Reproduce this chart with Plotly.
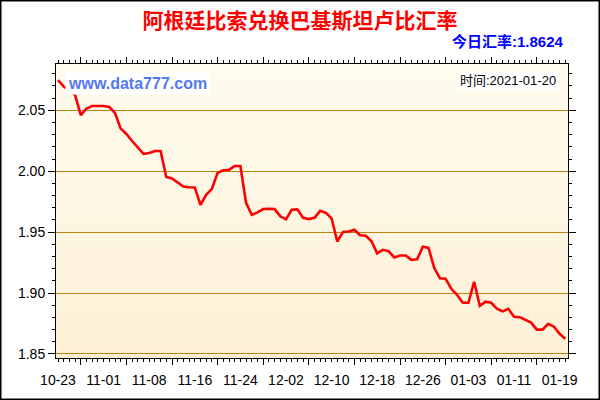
import plotly.graph_objects as go

# ---- data ----
rates = [2.0748, 2.0695, 2.0665, 2.0625, 2.0461, 2.0515, 2.0535, 2.0535, 2.0535, 2.0527,
         2.0478, 2.0350, 2.0306, 2.0248, 2.0195, 2.0142, 2.0150, 2.0166, 2.0166, 1.9953,
         1.9940, 1.9908, 1.9875, 1.9869, 1.9867, 1.9724, 1.9806, 1.9855, 1.9986, 2.0007,
         2.0011, 2.0043, 2.0043, 1.9740, 1.9642, 1.9662, 1.9689, 1.9692, 1.9689, 1.9630,
         1.9605, 1.9684, 1.9687, 1.9617, 1.9607, 1.9617, 1.9675, 1.9658, 1.9613, 1.9423,
         1.9502, 1.9505, 1.9519, 1.9474, 1.9470, 1.9425, 1.9326, 1.9355, 1.9343, 1.9292,
         1.9308, 1.9308, 1.9273, 1.9277, 1.9380, 1.9371, 1.9207, 1.9121, 1.9117, 1.9035,
         1.8986, 1.8920, 1.8920, 1.9093, 1.8896, 1.8929, 1.8920, 1.8871, 1.8850, 1.8871,
         1.8806, 1.8802, 1.8781, 1.8757, 1.8700, 1.8700, 1.8748, 1.8724, 1.8666, 1.8624]
tick_labels = ["10-23", "11-01", "11-08", "11-16", "11-24", "12-02",
               "12-10", "12-18", "12-26", "01-03", "01-11", "01-19"]
tick_pos = [0, 8, 16, 24, 32, 40, 48, 56, 64, 72, 80, 88]
major_tick_pos = [4, 12, 20, 28, 36, 44, 52, 60, 68, 76, 84]
y_ticks = [1.85, 1.90, 1.95, 2.00, 2.05]

title_text = "阿根廷比索兑换巴基斯坦卢比汇率"
today_text = "今日汇率:1.8624"
site_text = "www.data777.com"
time_text = "时间:2021-01-20"

x_idx = list(range(len(rates)))

# ---- layout geometry ----
W, H = 600, 400
L, R, T, B = 56, 32, 64, 42
PW, PH = W - L - R, H - T - B

def px(xp):
    return (xp - L) / PW

def py(yp):
    return (H - B - yp) / PH

xr = [-0.35, 89.47]
yr = [1.8467, 2.088]

fig = go.Figure()
fig.add_trace(go.Scatter(x=x_idx, y=rates, mode="lines",
                         line=dict(color="#FF0000", width=2.6),
                         hoverinfo="skip", showlegend=False))
fig.add_trace(go.Scatter(x=[], y=[], xaxis="x2", yaxis="y", showlegend=False))

# gradient background bands
shapes = []
n = 40
top = (255, 252, 238)
bot = (253, 240, 214)
for i in range(n):
    t = (i + 0.5) / n
    c = tuple(round(top[k] + (bot[k] - top[k]) * t) for k in range(3))
    shapes.append(dict(type="rect", xref="paper", yref="paper",
                       x0=0, x1=1, y0=1 - (i + 1) / n, y1=1 - i / n + 0.002,
                       fillcolor="rgb(%d,%d,%d)" % c, line=dict(width=0),
                       layer="below"))
# outer frame
shapes.append(dict(type="rect", xref="paper", yref="paper",
                   x0=px(0.75), x1=px(W - 0.75), y0=py(H - 0.75), y1=py(0.75),
                   line=dict(color="black", width=1.5), fillcolor="rgba(0,0,0,0)"))

tickfont = dict(family="Liberation Sans, Arial, sans-serif", size=14, color="#000000")

fig.update_layout(
    width=W, height=H,
    margin=dict(l=L, r=R, t=T, b=B),
    paper_bgcolor="white",
    plot_bgcolor="rgb(254,246,226)",
    showlegend=False,
    shapes=shapes,
    title=dict(text="<b>" + title_text + "</b>", x=0.5, xref="container", xanchor="center",
               y=1 - 21 / H, yref="container", yanchor="middle",
               font=dict(family="Noto Sans CJK SC", size=21, color="#FF0000")),
    xaxis=dict(range=xr, tickmode="array", tickvals=tick_pos, ticktext=tick_labels,
               ticks="", showgrid=False, zeroline=False, showline=True,
               linecolor="black", linewidth=1, mirror="ticks",
               tickfont=tickfont, ticklabelstandoff=9,
               minor=dict(dtick=1, tick0=0, ticks="outside", ticklen=3,
                          tickcolor="black", tickwidth=1, showgrid=False)),
    xaxis2=dict(range=xr, overlaying="x", side="bottom", tickmode="array",
                tickvals=major_tick_pos, showticklabels=False, ticks="outside",
                ticklen=6, tickcolor="black", tickwidth=1, showgrid=False,
                zeroline=False, showline=False, mirror="ticks"),
    yaxis=dict(range=yr, tickmode="array", tickvals=y_ticks,
               ticktext=["%.2f" % v for v in y_ticks],
               ticks="outside", ticklen=7, tickcolor="black", tickwidth=1,
               showgrid=True, gridcolor="#B8860B", gridwidth=1,
               zeroline=False, showline=True, linecolor="black", linewidth=1,
               mirror="ticks", tickfont=tickfont,
               minor=dict(dtick=0.01, tick0=1.85, ticks="outside", ticklen=3,
                          tickcolor="black", tickwidth=1, showgrid=False)),
    annotations=[
        dict(text="<b>" + today_text + "</b>", xref="paper", yref="paper",
             x=px(566), y=py(42), xanchor="right", yanchor="middle", showarrow=False,
             font=dict(family="Liberation Sans, Noto Sans CJK SC", size=15, color="#0000FF")),
        dict(text="<b>" + site_text + "</b>", xref="paper", yref="paper",
             x=px(65), y=py(84), xanchor="left", yanchor="middle", showarrow=False,
             bgcolor="white", borderpad=2,
             font=dict(family="Liberation Sans, Arial, sans-serif", size=16, color="#5577EE")),
        dict(text=time_text, xref="paper", yref="paper",
             x=px(558), y=py(81), xanchor="right", yanchor="middle", showarrow=False,
             bgcolor="white", borderpad=1,
             font=dict(family="Liberation Sans, Noto Sans CJK SC", size=13, color="#000000")),
    ],
)

fig.write_html("out.html", config={"displayModeBar": False},
               post_script="document.body.style.margin='0';document.body.style.overflow='hidden';")
